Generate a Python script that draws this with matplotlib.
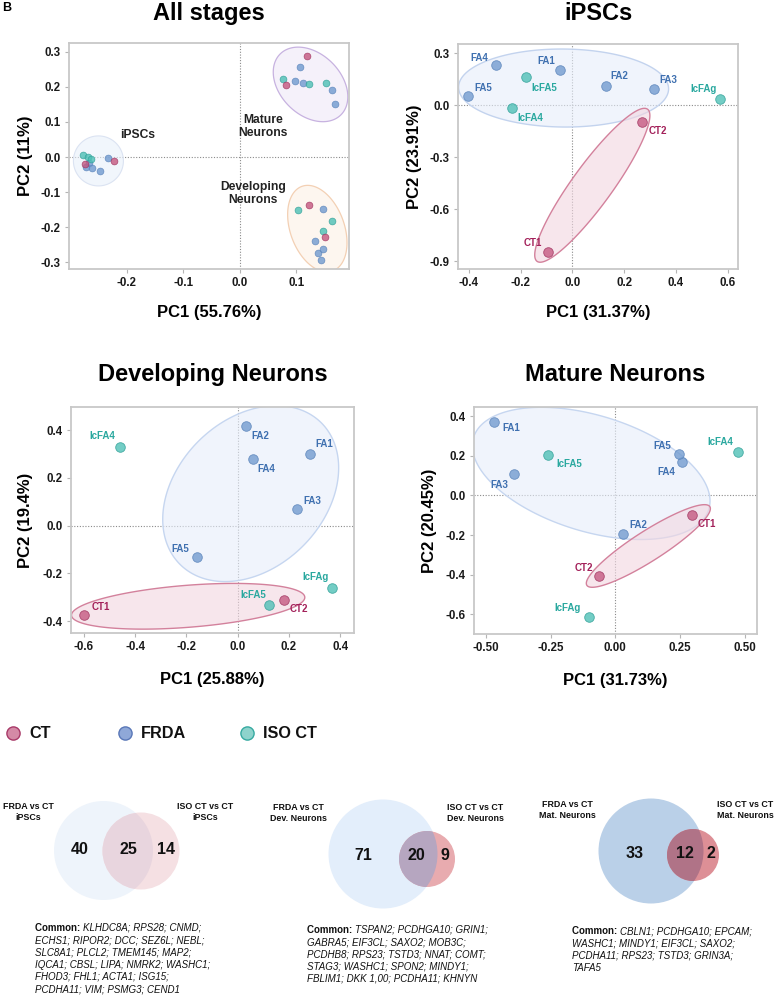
import numpy as np
import matplotlib
matplotlib.use("Agg")
import matplotlib.pyplot as plt
from matplotlib.patches import Polygon, Circle
from matplotlib.lines import Line2D

plt.rcParams['font.family'] = ['Liberation Sans', 'DejaVu Sans']
plt.rcParams['font.weight'] = 'bold'

# ---------------- DATA ----------------
# All stages PCA
all_pc1 = [-0.278, -0.269, -0.263, -0.266, -0.273, -0.272, -0.262, -0.248, -0.233, -0.222,
           0.118, 0.107, 0.077, 0.082, 0.097, 0.112, 0.123, 0.153, 0.163, 0.169,
           0.102, 0.122, 0.147, 0.163, 0.147, 0.151, 0.133, 0.138, 0.147, 0.143]
all_pc2 = [0.005, 0.000, -0.006, -0.018, -0.021, -0.028, -0.032, -0.041, -0.004, -0.011,
           0.287, 0.257, 0.222, 0.206, 0.216, 0.211, 0.207, 0.212, 0.192, 0.151,
           -0.152, -0.137, -0.149, -0.182, -0.211, -0.227, -0.238, -0.273, -0.263, -0.292]
all_group = ['ISO', 'ISO', 'ISO', 'FRDA', 'CT', 'FRDA', 'FRDA', 'FRDA', 'FRDA', 'CT',
             'CT', 'FRDA', 'ISO', 'CT', 'FRDA', 'FRDA', 'ISO', 'ISO', 'FRDA', 'FRDA',
             'ISO', 'CT', 'FRDA', 'ISO', 'ISO', 'CT', 'FRDA', 'FRDA', 'FRDA', 'FRDA']
stage_names = ['iPSCs', 'Mature\nNeurons', 'Developing\nNeurons']
stage_label_pos = [(-0.181, 0.064), (0.041, 0.087), (0.023, -0.104)]

sample_labels = ['FA1', 'FA2', 'FA3', 'FA4', 'FA5', 'IcFA4', 'IcFA5', 'IcFAg', 'CT1', 'CT2']
sample_group = ['FRDA', 'FRDA', 'FRDA', 'FRDA', 'FRDA', 'ISO', 'ISO', 'ISO', 'CT', 'CT']

ipsc_pc1 = [-0.048, 0.129, 0.316, -0.294, -0.402, -0.235, -0.178, 0.571, -0.095, 0.268]
ipsc_pc2 = [0.202, 0.112, 0.092, 0.233, 0.052, -0.017, 0.162, 0.033, -0.848, -0.100]

dev_pc1 = [0.282, 0.031, 0.233, 0.061, -0.159, -0.459, 0.121, 0.369, -0.599, 0.181]
dev_pc2 = [0.299, 0.419, 0.068, 0.278, -0.133, 0.328, -0.332, -0.261, -0.373, -0.311]

mat_pc1 = [-0.468, 0.030, -0.390, 0.258, 0.248, 0.476, -0.259, -0.101, 0.297, -0.061]
mat_pc2 = [0.368, -0.193, 0.108, 0.167, 0.208, 0.218, 0.203, -0.611, -0.101, -0.404]

panel_titles = ['All stages', 'iPSCs', 'Developing Neurons', 'Mature Neurons']
x_labels = ['PC1 (55.76%)', 'PC1 (31.37%)', 'PC1 (25.88%)', 'PC1 (31.73%)']
y_labels = ['PC2 (11%)', 'PC2 (23.91%)', 'PC2 (19.4%)', 'PC2 (20.45%)']
x_ticks = [[-0.2, -0.1, 0.0, 0.1], [-0.4, -0.2, 0.0, 0.2, 0.4, 0.6],
           [-0.6, -0.4, -0.2, 0.0, 0.2, 0.4], [-0.5, -0.25, 0.0, 0.25, 0.5]]
y_ticks = [[-0.3, -0.2, -0.1, 0.0, 0.1, 0.2, 0.3], [-0.9, -0.6, -0.3, 0.0, 0.3],
           [-0.4, -0.2, 0.0, 0.2, 0.4], [-0.6, -0.4, -0.2, 0.0, 0.2, 0.4]]
x_fmt = ['{:.1f}', '{:.1f}', '{:.1f}', '{:.2f}']
x_lims = [(-0.302, 0.193), (-0.442, 0.640), (-0.650, 0.454), (-0.546, 0.548)]
y_lims = [(-0.319, 0.325), (-0.946, 0.352), (-0.450, 0.497), (-0.699, 0.446)]

legend_names = ['CT', 'FRDA', 'ISO CT']

venn_left_labels = ['FRDA vs CT\niPSCs', 'FRDA vs CT\nDev. Neurons', 'FRDA vs CT\nMat. Neurons']
venn_right_labels = ['ISO CT vs CT\niPSCs', 'ISO CT vs CT\nDev. Neurons', 'ISO CT vs CT\nMat. Neurons']
venn_only_frda = [40, 71, 33]
venn_common = [25, 20, 12]
venn_only_iso = [14, 9, 2]
common_genes = [
    ["KLHDC8A; RPS28; CNMD;", "ECHS1; RIPOR2; DCC; SEZ6L; NEBL;", "SLC8A1; PLCL2; TMEM145; MAP2;",
     "IQCA1; CBSL; LIPA; NMRK2; WASHC1;", "FHOD3; FHL1; ACTA1; ISG15;", "PCDHA11; VIM; PSMG3; CEND1"],
    ["TSPAN2; PCDHGA10; GRIN1;", "GABRA5; EIF3CL; SAXO2; MOB3C;", "PCDHB8; RPS23; TSTD3; NNAT; COMT;",
     "STAG3; WASHC1; SPON2; MINDY1;", "FBLIM1; DKK 1,00; PCDHA11; KHNYN"],
    ["CBLN1; PCDHGA10; EPCAM;", "WASHC1; MINDY1; EIF3CL; SAXO2;", "PCDHA11; RPS23; TSTD3; GRIN3A;",
     "TAFA5"],
]

# ---------------- STYLE ----------------
W, H = 777, 998
fig = plt.figure(figsize=(W / 100, H / 100), dpi=100)

face = {'CT': '#c4577f', 'FRDA': '#709acf', 'ISO': '#4cbfb5'}
edge = {'CT': '#9e2f5c', 'FRDA': '#5580b8', 'ISO': '#2a9d94'}
lab_col = {'CT': '#a3215a', 'FRDA': '#3f70b0', 'ISO': '#2aa89f'}


def px_axes(x0, y0, x1, y1):
    return fig.add_axes([x0 / W, 1 - y1 / H, (x1 - x0) / W, (y1 - y0) / H])


axes_px = [(69, 43, 349, 269), (458, 44, 738, 269), (71, 407, 354, 633), (474, 407, 757, 634)]
ylab_x = [-0.129, -0.129, -0.134, -0.131]
xlab_y = [-0.160, -0.160, -0.172, -0.172]
title_y = [1.13, 1.135, 1.142, 1.142]


def add_ellipse(ax, cx, cy, a, b, phi, fc, ec, lw=1.0):
    t = np.linspace(0, 2 * np.pi, 240)
    c = ax.transData.transform((cx, cy))
    ph = np.deg2rad(phi)
    dx = a * np.cos(t) * np.cos(ph) - b * np.sin(t) * np.sin(ph)
    dy = a * np.cos(t) * np.sin(ph) + b * np.sin(t) * np.cos(ph)
    pts = np.column_stack([c[0] + dx, c[1] + dy])
    data = ax.transData.inverted().transform(pts)
    ax.add_patch(Polygon(data, closed=True, fc=fc, ec=ec, lw=lw, zorder=1))


axs = []
for i in range(4):
    ax = px_axes(*axes_px[i])
    axs.append(ax)
    ax.set_xlim(*x_lims[i])
    ax.set_ylim(*y_lims[i])
    ax.set_xticks(x_ticks[i])
    ax.set_xticklabels([x_fmt[i].format(v) for v in x_ticks[i]])
    ax.set_yticks(y_ticks[i])
    ax.set_yticklabels(['{:.1f}'.format(v) for v in y_ticks[i]])
    ax.tick_params(labelsize=8.3, length=3, width=0.8, color='#b5b5b5', pad=3, labelcolor='#1a1a1a')
    for lbl in ax.get_xticklabels() + ax.get_yticklabels():
        lbl.set_fontweight('bold')
    for s in ax.spines.values():
        s.set_color('#c8c8c8')
        s.set_linewidth(1.3)
    ax.axhline(0, ls=(0, (1, 1.5)), color='#8a8a8a', lw=0.8, zorder=0.5)
    ax.axvline(0, ls=(0, (1, 1.5)), color='#8a8a8a', lw=0.8, zorder=0.5)
    ax.set_xlabel(x_labels[i], fontsize=12, fontweight='bold')
    ax.set_ylabel(y_labels[i], fontsize=12, fontweight='bold')
    ax.xaxis.set_label_coords(0.5, xlab_y[i])
    ax.yaxis.set_label_coords(ylab_x[i], 0.5)
    ax.text(0.5, title_y[i], panel_titles[i], transform=ax.transAxes, ha='center', va='center',
            fontsize=17, fontweight='bold')

# ---- All stages ----
ax = axs[0]
add_ellipse(ax, -0.250, -0.011, 25, 25, 0, (0.91, 0.94, 0.98, 0.6), '#dbe3f2', 0.8)
add_ellipse(ax, 0.125, 0.207, 43, 30.5, 135, (0.93, 0.90, 0.97, 0.55), '#c7b2e0', 0.9)
add_ellipse(ax, 0.137, -0.204, 45, 27, 110, (0.99, 0.94, 0.89, 0.55), '#f3d0b4', 0.9)
for g in ['FRDA', 'ISO', 'CT']:
    xs = [x for x, gg in zip(all_pc1, all_group) if gg == g]
    ys = [y for y, gg in zip(all_pc2, all_group) if gg == g]
    ax.scatter(xs, ys, s=24, c=face[g], edgecolors=edge[g], linewidths=0.5, alpha=0.8, zorder=3)
for name, (lx, ly) in zip(stage_names, stage_label_pos):
    ax.text(lx, ly, name, ha='center', va='center', fontsize=8.7, fontweight='bold',
            color='#222222', linespacing=1.15)

# ---- per-stage panels ----
offsets = [
    # iPSCs: FA1 FA2 FA3 FA4 FA5 IcFA4 IcFA5 IcFAg CT1 CT2
    [(-14, 9), (14, 10), (14, 9), (-17, 7), (15, 8), (19, -10), (18, -11), (-17, 10), (-15, 9), (16, -9)],
    # Developing
    [(14, 10), (15, -10), (15, 8), (13, -10), (-17, 8), (-18, 11), (-15, 10), (-17, 11), (17, 8), (15, -9)],
    # Mature
    [(17, -6), (15, 9), (-15, -11), (-16, -10), (-17, 8), (-18, 10), (21, -9), (-22, 9), (15, -9), (-16, 8)],
]
panel_data = [(ipsc_pc1, ipsc_pc2), (dev_pc1, dev_pc2), (mat_pc1, mat_pc2)]

# ellipses (center in data, semi-axes px, angle deg)
add_ellipse(axs[1], -0.034, 0.098, 105, 39, -0.5, (0.90, 0.93, 0.98, 0.6), '#c3d3ee', 1.0)
add_ellipse(axs[1], 0.077, -0.463, 94, 20, 54, (0.95, 0.84, 0.88, 0.6), '#d3819c', 1.0)
add_ellipse(axs[2], 0.051, 0.134, 100, 74, 45, (0.90, 0.93, 0.98, 0.6), '#c6d6f0', 1.0)
add_ellipse(axs[2], -0.193, -0.338, 117, 21, 4.5, (0.95, 0.84, 0.88, 0.6), '#d3819c', 1.0)
add_ellipse(axs[3], -0.093, 0.111, 123, 58, -17, (0.90, 0.93, 0.98, 0.6), '#c6d6f0', 1.0)
add_ellipse(axs[3], 0.128, -0.255, 73, 15, 32.6, (0.95, 0.84, 0.88, 0.6), '#d3819c', 1.0)

for k in range(3):
    ax = axs[k + 1]
    xs, ys = panel_data[k]
    for j in range(len(sample_labels)):
        g = sample_group[j]
        ax.scatter([xs[j]], [ys[j]], s=48, c=face[g], edgecolors=edge[g], linewidths=0.6,
                   alpha=0.78, zorder=3)
        dx, dy = offsets[k][j]
        ax.annotate(sample_labels[j], (xs[j], ys[j]), xytext=(dx * 0.72, dy * 0.72),
                    textcoords='offset points', ha='center', va='center', fontsize=7,
                    fontweight='bold', color=lab_col[g], zorder=4)

# ---------------- overlay (legend + venn) ----------------
ov = fig.add_axes([0, 0, 1, 1])
ov.set_xlim(0, W)
ov.set_ylim(H, 0)
ov.axis('off')

leg_x = [13, 125, 247]
leg_face = ['#d48aa6', '#8fa8d8', '#8ed3cc']
leg_edge = ['#a83a68', '#5a78b8', '#36aaa1']
for name, lx, fc, ec in zip(legend_names, leg_x, leg_face, leg_edge):
    ov.add_line(Line2D([lx], [733], marker='o', markersize=9.5, markerfacecolor=fc,
                       markeredgecolor=ec, markeredgewidth=1.0, linestyle='none'))
    ov.text(lx + 16, 733, name, ha='left', va='center', fontsize=11.7, fontweight='bold',
            color='#111111')

venn_left_circ = [(103.5, 850.5, 49.5), (383, 854, 54.5), (651, 851, 52.5)]
venn_right_circ = [(141, 851, 38.5), (427, 859, 28), (693, 855, 26)]
venn_colors = [('#eef4fb', '#f5e0e3', '#e8d5de'),
               ('#e3eefb', '#e8abaf', '#b6a6c0'),
               ('#bad0e8', '#dd8f96', '#b07387')]
num_pos = [((80, 128, 166), 850), ((363, 416, 445), 856), ((635, 685, 711), 853)]
lab_left_pos = [(28, 812), (298, 813), (567, 810)]
lab_right_pos = [(205, 812), (475, 813), (745, 810)]
common_xy = [(35, 928), (307, 930), (572, 931)]
line_step = 12.2

for v in range(3):
    lc = venn_left_circ[v]
    rc = venn_right_circ[v]
    c_left, c_right, c_both = venn_colors[v]
    left = Circle((lc[0], lc[1]), lc[2], fc=c_left, ec='none', zorder=1)
    ov.add_patch(left)
    ov.add_patch(Circle((rc[0], rc[1]), rc[2], fc=c_right, ec='none', zorder=1))
    both = Circle((rc[0], rc[1]), rc[2], fc=c_both, ec='none', zorder=2)
    ov.add_patch(both)
    both.set_clip_path(left)
    xs3, yn = num_pos[v]
    for xn, val in zip(xs3, [venn_only_frda[v], venn_common[v], venn_only_iso[v]]):
        ov.text(xn, yn, str(val), ha='center', va='center', fontsize=11.5, fontweight='bold',
                color='#111111', zorder=3)
    ov.text(*lab_left_pos[v], venn_left_labels[v], ha='center', va='center', fontsize=6.4,
            fontweight='bold', linespacing=1.2, color='#111111')
    ov.text(*lab_right_pos[v], venn_right_labels[v], ha='center', va='center', fontsize=6.4,
            fontweight='bold', linespacing=1.2, color='#111111')
    cx, cy = common_xy[v]
    head = ov.text(cx, cy, 'Common: ', ha='left', va='center', fontsize=7, fontweight='bold',
                   color='#111111')
    lines = common_genes[v]
    ov.annotate(lines[0], xy=(1, 0.5), xycoords=head, ha='left', va='center', fontsize=7,
                fontstyle='italic', fontweight='normal', color='#111111')
    for li, line in enumerate(lines[1:], start=1):
        ov.text(cx, cy + li * line_step, line, ha='left', va='center', fontsize=7,
                fontstyle='italic', fontweight='normal', color='#111111')

fig.text(2 / W, 1 - 2 / H, 'B', ha='left', va='top', fontsize=9, fontweight='bold')

fig.savefig('out.png', dpi=100)
